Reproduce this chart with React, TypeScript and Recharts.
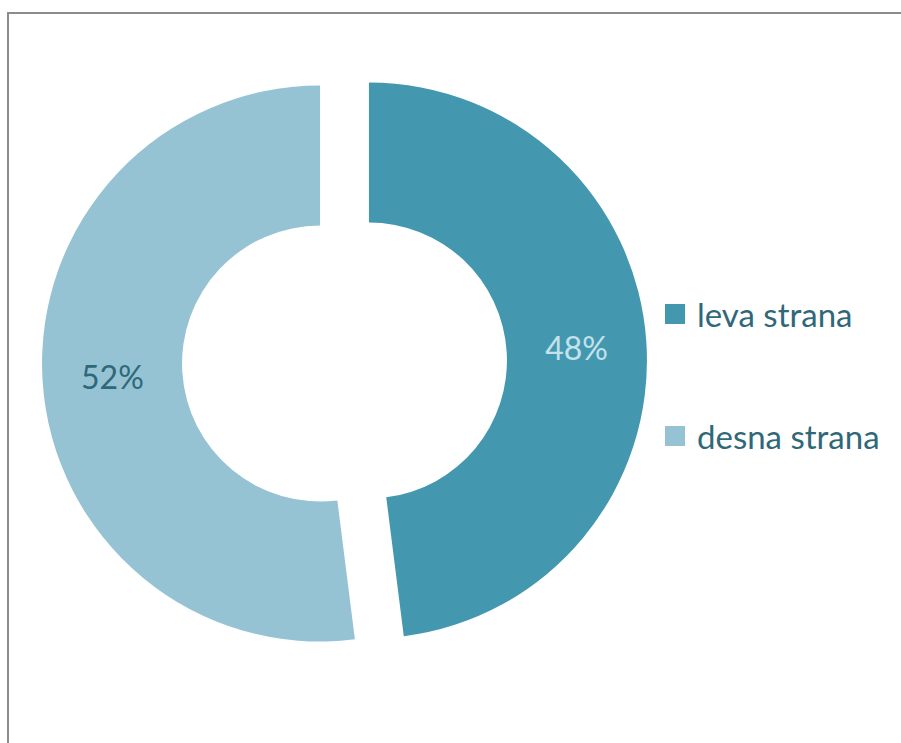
import React from 'react';
import { PieChart, Pie, Cell, Legend } from 'recharts';

const categories = ['leva strana', 'desna strana'];
const values = [48, 52];
const percentLabels = ['48%', '52%'];

const COLORS = ['#4398AF', '#95C3D4'];
const LABEL_COLORS = ['#C4E2EC', '#2F6878'];
const TEXT_COLOR = '#2F6878';
const FONT = 'Lato, "Open Sans", sans-serif';

// centre relative to the chart's plot area (default 5px margin)
const CX = 330.5;
const CY = 343;
const OUTER = 278;
const INNER = 138;
const EXPLODE = 24.5;

const data = categories.map((name, i) => ({ name, value: values[i], label: percentLabels[i] }));
const total = values.reduce((a, b) => a + b, 0);

// offset of each slice along its own mid angle (point explosion)
const offsets = values.map((v, i) => {
    const before = values.slice(0, i).reduce((a, b) => a + b, 0);
    const mid = 90 - ((before + v / 2) / total) * 360;
    const rad = (mid * Math.PI) / 180;
    return { dx: EXPLODE * Math.cos(rad), dy: -EXPLODE * Math.sin(rad) };
});

const renderLabel = (visible: number) => (props: any) => {
    if (props.index !== visible) return null;
    const rad = (props.midAngle * Math.PI) / 180;
    const r = (props.innerRadius + props.outerRadius) / 2;
    const x = props.cx + r * Math.cos(rad);
    const y = props.cy - r * Math.sin(rad);
    return (
        <text
            x={x}
            y={y}
            fill={LABEL_COLORS[visible]}
            textAnchor="middle"
            dominantBaseline="central"
            fontSize={32}
            fontFamily={FONT}
        >
            {data[visible].label}
        </text>
    );
};

const LegendContent = () => (
    <div style={{ fontFamily: FONT }}>
        {data.map((entry, i) => (
            <div
                key={entry.name}
                style={{ display: 'flex', alignItems: 'center', height: 30, marginBottom: i === 0 ? 92 : 0 }}
            >
                <span style={{ width: 20, height: 20, background: COLORS[i], display: 'inline-block', marginRight: 12 }} />
                <span style={{ fontSize: 33, color: TEXT_COLOR, lineHeight: '30px' }}>{entry.name}</span>
            </div>
        ))}
    </div>
);

export default function App() {
    return (
        <div
            style={{
                position: 'absolute',
                left: 7,
                top: 12,
                width: 900,
                height: 740,
                borderTop: '2px solid #8C8C8C',
                borderLeft: '2px solid #8C8C8C',
                background: '#fff',
            }}
        >
            <PieChart width={892} height={729}>
                {data.map((_, visible) => (
                    <Pie
                        key={visible}
                        data={data}
                        dataKey="value"
                        nameKey="name"
                        cx={CX + offsets[visible].dx}
                        cy={CY + offsets[visible].dy}
                        innerRadius={INNER}
                        outerRadius={OUTER}
                        startAngle={90}
                        endAngle={-270}
                        stroke="none"
                        labelLine={false}
                        label={renderLabel(visible)}
                        isAnimationActive={false}
                    >
                        {data.map((entry, i) => (
                            <Cell
                                key={`cell-${entry.name}`}
                                fill={i === visible ? COLORS[i] : 'transparent'}
                                stroke="none"
                            />
                        ))}
                    </Pie>
                ))}
                <Legend
                    layout="vertical"
                    content={<LegendContent />}
                    wrapperStyle={{ left: 656, top: 285, width: 236 }}
                />
            </PieChart>
        </div>
    );
}
